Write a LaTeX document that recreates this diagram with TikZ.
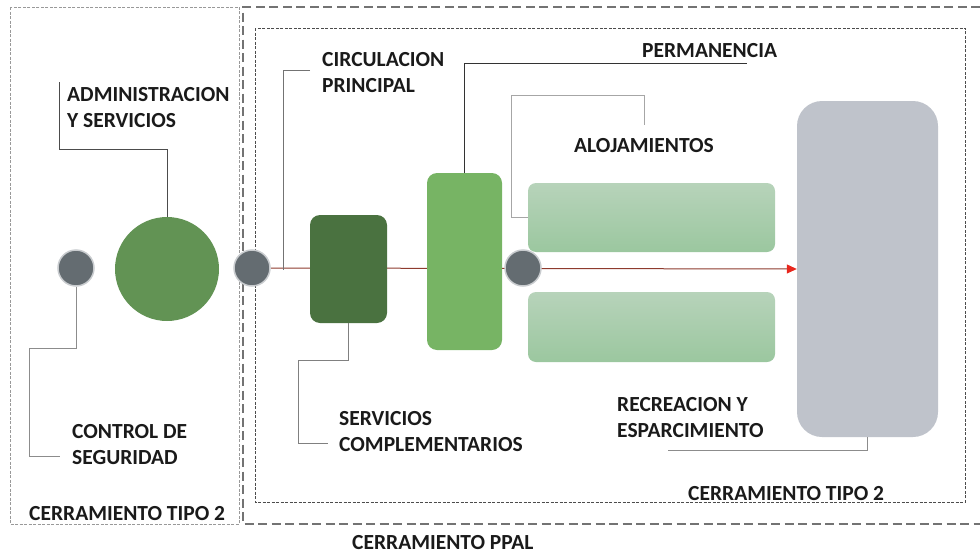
\documentclass[tikz,border=0pt]{standalone}
\usepackage{fontspec}
\setmainfont{Carlito}
\usetikzlibrary{arrows.meta,backgrounds}
\definecolor{dotgray}{HTML}{646C71}
\definecolor{dotring}{HTML}{C9CCCF}
\definecolor{admgreen}{HTML}{629354}
\definecolor{servgreen}{HTML}{4A7240}
\definecolor{circgreen}{HTML}{77B464}
\definecolor{alojtop}{HTML}{B7D3BA}
\definecolor{alojbot}{HTML}{9BC79F}
\definecolor{recgray}{HTML}{BFC3CB}
\definecolor{mainred}{HTML}{8E3B2E}
\definecolor{tipred}{HTML}{E8261C}
\definecolor{txt}{HTML}{1A1A1A}
\begin{document}
\begin{tikzpicture}[x=1pt,y=-1pt,
  dot/.style={circle,fill=dotgray,draw=dotring,line width=1.5pt,minimum size=36pt,inner sep=0pt},
  blk/.style={rectangle,inner sep=0pt,rounded corners=#1},
  blk/.default=10pt,
  callout/.style={line width=1pt,draw=#1},
  callout/.default={black!50},
  lbl/.style={anchor=north west,inner sep=0pt,align=left,text=txt,
    font=\fontsize{21.5}{26}\selectfont\bfseries},
  leftbox/.style={draw=black!40,line width=0.9pt,dash pattern=on 3pt off 1.5pt},
  ppalbox/.style={draw=black!55,line width=1.1pt,dash pattern=on 9pt off 4.5pt},
  tipobox/.style={draw=black!70,line width=0.9pt,dash pattern=on 3pt off 1.5pt}
]
\useasboundingbox (0,0) rectangle (980,554);
% enclosures
\draw[leftbox] (10,7) rectangle (239,524);
\draw[ppalbox] (980,7) -- (243,7) -- (243,524) -- (980,524);
\draw[tipobox] (255,28) rectangle (965,502);
% shapes
\node[dot] (c1) at (76,268) {};
\node[circle,fill=admgreen,minimum size=104pt,inner sep=0pt] (adm) at (167,269) {};
\node[dot] (c2) at (252,268) {};
\node[blk,fill=servgreen,minimum width=77pt,minimum height=108pt] (serv) at (348.5,269) {};
\node[blk,fill=circgreen,minimum width=75pt,minimum height=177pt] (circ) at (464.5,261.5) {};
\node[dot] (c3) at (523,268) {};
\node[blk=8pt,top color=alojtop,bottom color=alojbot,minimum width=247pt,minimum height=69pt] (aloj1) at (651.5,217.5) {};
\node[blk=8pt,top color=alojtop,bottom color=alojbot,minimum width=247pt,minimum height=70pt] (aloj2) at (651.5,327) {};
\node[blk=25pt,fill=recgray,minimum width=141pt,minimum height=336pt] (rec) at (867.5,269) {};
% main circulation line
\begin{scope}[on background layer]
\draw[mainred,line width=1pt,-{Triangle[length=10pt,width=9pt,color=tipred]}] (c2.east) -- (rec.west);
\end{scope}
% callout ends
\coordinate (admE) at (59,82);
\coordinate (cpE) at (310,70);
\coordinate (cpB) at (283,270);
\coordinate (permE) at (747,63);
\coordinate (alojE) at (644,125);
\coordinate (ctrlE) at (60,456);
\coordinate (servE) at (328,443);
\coordinate (recE) at (668,450);
% callouts
\draw[callout=black!70] (adm.north) |- (59,149) -- (admE);
\draw[callout=black!55] (cpE) -| (cpB);
\draw[callout=black!80] (circ.north) |- (permE);
\draw[callout=black!35] (aloj1.west) -| (511,95) -| (alojE);
\draw[callout=black!45] (c1.south) |- (29,348) |- (ctrlE);
\draw[callout=black!50] (serv.south) |- (298,360) |- (servE);
\draw[callout=black!45] (rec.south) |- (recE);
% labels
\node[lbl] (tadm) at (67,87) {ADMINISTRACION\\Y SERVICIOS};
\node[lbl] (tcirc) at (322,52) {CIRCULACION\\PRINCIPAL};
\node[lbl] (tperm) at (642,43) {PERMANENCIA};
\node[lbl] (taloj) at (574,138) {ALOJAMIENTOS};
\node[lbl] (tctrl) at (72,424) {CONTROL DE\\SEGURIDAD};
\node[lbl] (tserv) at (339,411) {SERVICIOS\\COMPLEMENTARIOS};
\node[lbl] (trec) at (617,397) {RECREACION Y\\ESPARCIMIENTO};
\node[lbl] (tt2a) at (29,506) {CERRAMIENTO TIPO 2};
\node[lbl] (tt2b) at (688,486) {CERRAMIENTO TIPO 2};
\node[lbl] (tppal) at (352,535.5) {CERRAMIENTO PPAL};
\end{tikzpicture}
\end{document}
